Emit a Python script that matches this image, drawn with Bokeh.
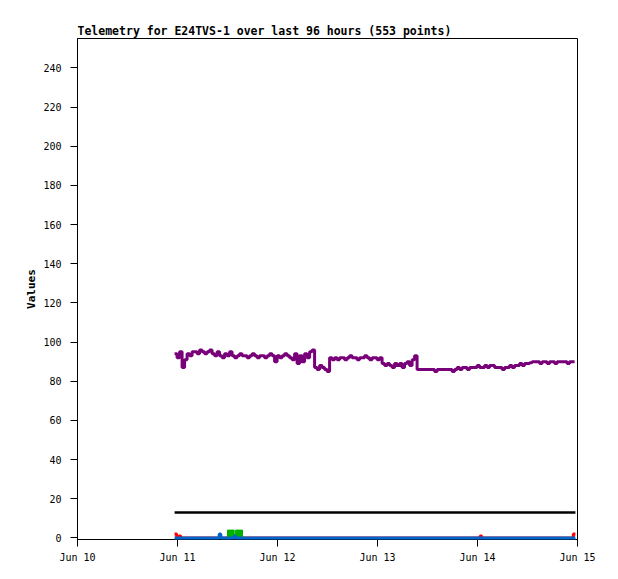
from datetime import datetime, timedelta
from bokeh.plotting import figure
from bokeh.models import Range1d, DaysTicker, DatetimeTickFormatter, SingleIntervalTicker
from bokeh.embed import file_html
from bokeh.resources import INLINE

# ---- data ----
day0 = datetime(2024, 6, 10)
t_start = day0 + timedelta(hours=23, minutes=18)   # first sample
t_end = day0 + timedelta(hours=119, minutes=30)    # last sample
sample_minutes = 36

purple_values = [
    94, 92, 95, 87, 91, 94, 93,
    95, 95, 94, 96, 95, 94, 95, 96,
    94, 93, 95, 93, 92, 94, 93, 95, 93, 92, 93, 94, 93, 93, 92, 93, 94, 93, 92, 93,
    93, 92, 93, 94, 93, 90, 93, 92, 93, 94, 93, 92,
    91, 94, 89, 93, 90, 94, 92, 95, 96,
    87, 86, 88, 87, 86, 85,
    92, 91, 92, 91, 92, 92, 91, 92, 93, 92, 92, 91, 92, 92, 93, 92, 91, 92, 92, 91, 92,
    89, 88, 89, 88, 87, 89, 88, 89, 87, 89, 90, 88, 91, 93,
    86, 86, 86, 86, 86, 86, 86, 85, 86, 86, 86, 86, 86, 86, 85, 86,
    87, 86, 87, 87, 86, 87, 87, 87, 88, 87,
    87, 88, 87, 88, 88, 87, 87, 87, 86, 87, 87, 88, 87, 88,
    88, 89, 88, 89, 89, 89.5,
    90, 90, 90, 89, 90, 90, 89, 90, 90, 89, 90, 90, 90, 90, 89, 90, 90, 90,
]
purple_times = [t_start + timedelta(minutes=sample_minutes * i) for i in range(len(purple_values))]

black_times = [t_start, t_end]
black_values = [13, 13]

blue_hours = [23.3, 34.0, 34.4, 37.6, 37.9, 119.5]
blue_values = [0, 2, 0, 1, 0, 0]

red_hours = [23.3, 23.8, 24.4, 24.8, 96.6, 97.0, 119.0, 119.5]
red_values = [2, 0, 1, 0, 1, 0, 2, 2]

green_start_h = [36.0, 37.6, 37.95]
green_end_h = [37.6, 37.95, 39.6]
green_values = [4, 2, 4]

y_ticks_interval = 20


def hours(hs):
    return [day0 + timedelta(hours=h) for h in hs]


p = figure(
    frame_width=500, frame_height=501,
    x_axis_type="datetime",
    x_range=Range1d(day0, day0 + timedelta(days=5)),
    y_range=Range1d(-0.8, 255),
    output_backend="svg", toolbar_location=None,
    min_border_left=77, min_border_right=30, min_border_top=38, min_border_bottom=30,
    title="Telemetry for E24TVS-1 over last 96 hours (553 points)",
)
p.background_fill_color = "white"
p.border_fill_color = "white"
p.outline_line_color = "black"
p.outline_line_alpha = 1
p.outline_line_width = 1
p.xgrid.visible = False
p.ygrid.visible = False

p.title.text_font = "DejaVu Sans Mono"
p.title.text_font_style = "bold"
p.title.text_font_size = "11.5px"
p.title.align = "left"
p.title.standoff = 2
p.title.text_color = "black"

p.xaxis.ticker = DaysTicker(days=list(range(1, 32)))
p.xaxis.formatter = DatetimeTickFormatter(days="%b %d", months="%b %d")
p.yaxis.ticker = SingleIntervalTicker(interval=y_ticks_interval)
p.yaxis.axis_label = "Values"
p.yaxis.axis_label_text_font = "DejaVu Sans Mono"
p.yaxis.axis_label_text_font_style = "bold"
p.yaxis.axis_label_text_font_size = "11px"
p.yaxis.axis_label_standoff = 2
p.yaxis.axis_label_text_color = "black"

for ax in (p.xaxis, p.yaxis):
    ax.major_label_text_font = "DejaVu Sans Mono"
    ax.major_label_text_font_size = "10px"
    ax.major_label_text_color = "black"
    ax.major_tick_out = 7
    ax.major_tick_in = 0
    ax.minor_tick_out = 0
    ax.minor_tick_in = 0
    ax.axis_line_color = "black"
    ax.major_tick_line_color = "black"
p.xaxis.major_label_standoff = 5
p.yaxis.major_label_standoff = 9

# red
p.step(hours(red_hours), red_values, mode="after", line_color="#ff0000", line_width=3)
# green
p.quad(left=hours(green_start_h), right=hours(green_end_h), bottom=0, top=green_values,
       fill_color="#00b000", line_color="#00b000", line_width=1)
# blue
blue = p.step(hours(blue_hours), blue_values, mode="after", line_color="#0066cc", line_width=3)
blue.level = "overlay"
# black
p.line(black_times, black_values, line_color="black", line_width=2.5)
# purple
p.step(purple_times, purple_values, mode="after", line_color="#780078", line_width=3,
       line_join="bevel")

open("out.html", "w").write(file_html(p, INLINE))
